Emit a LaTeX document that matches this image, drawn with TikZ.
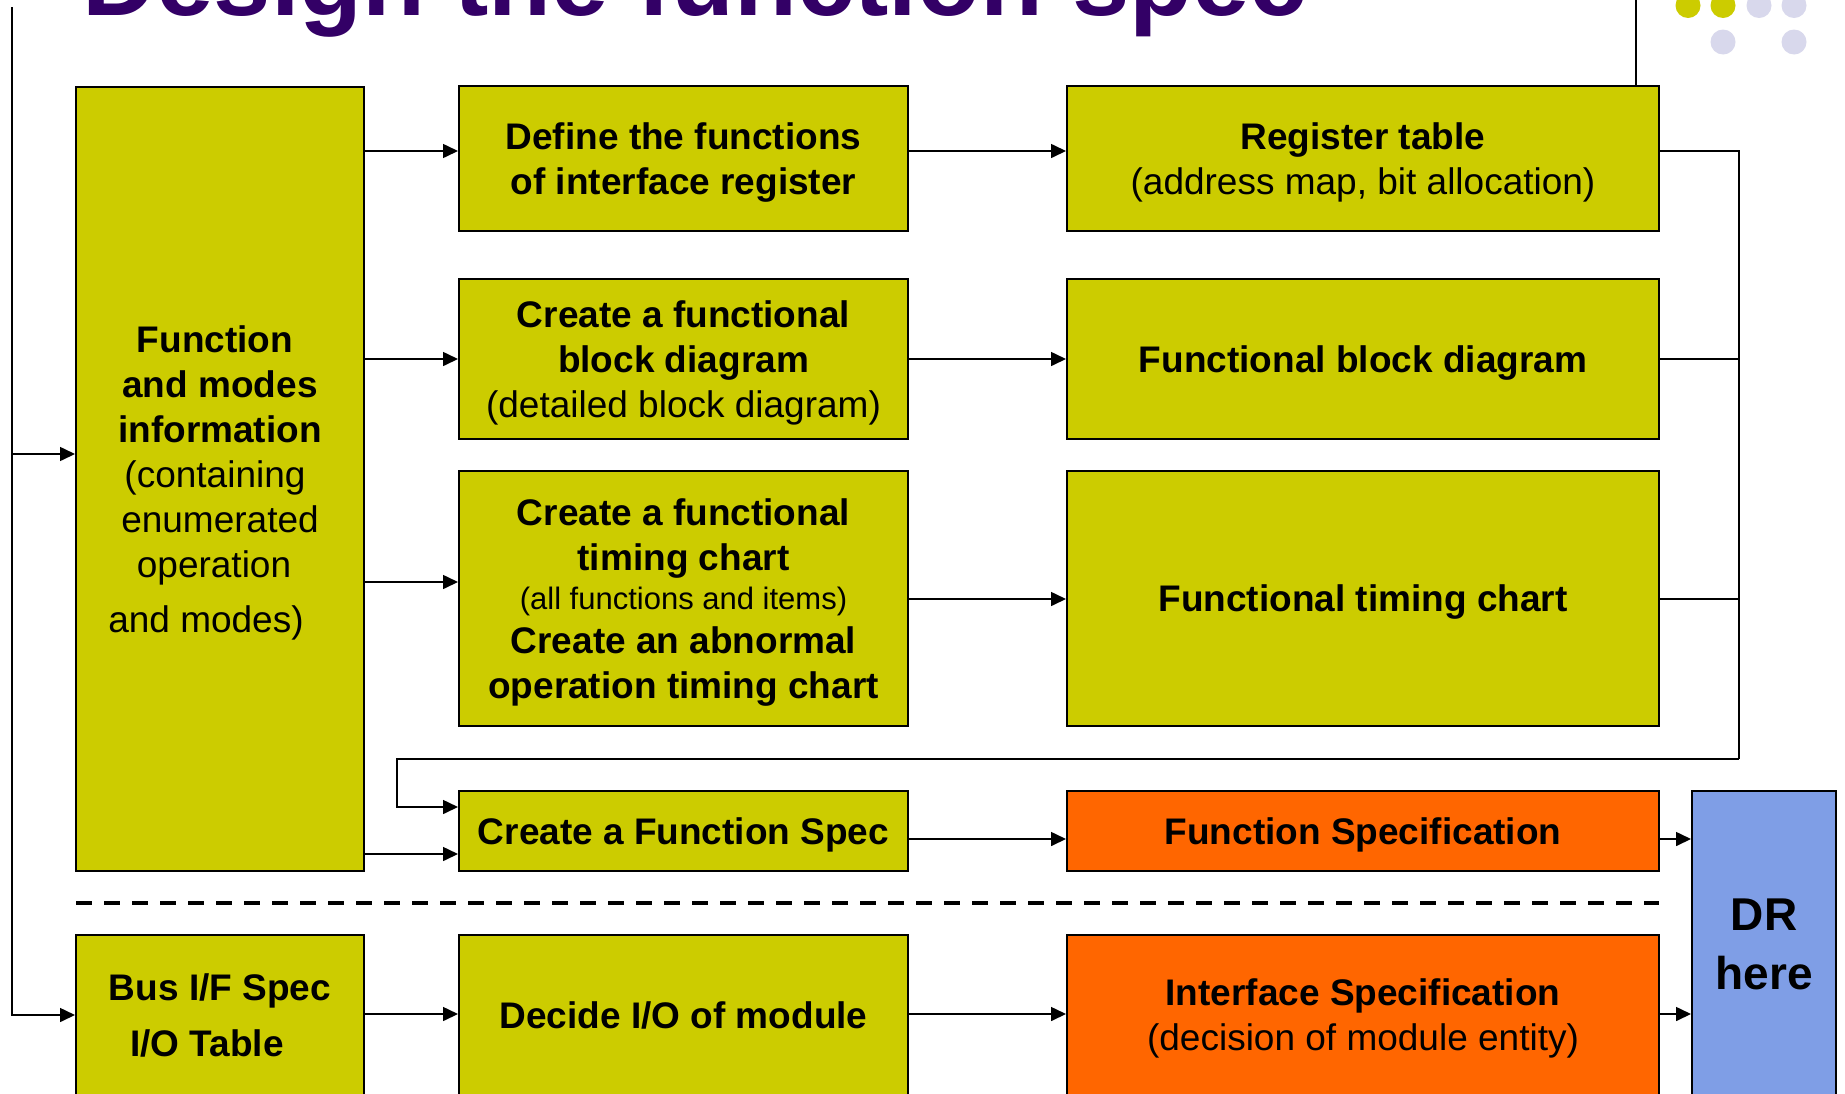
\documentclass[tikz,border=0pt]{standalone}
\usepackage{fontspec}
\setmainfont{Liberation Sans}
\usetikzlibrary{arrows.meta}
\definecolor{boxyellow}{RGB}{204,204,0}
\definecolor{boxorange}{RGB}{255,102,0}
\definecolor{boxblue}{RGB}{127,158,230}
\definecolor{titlepurple}{RGB}{51,0,102}
\definecolor{dotlilac}{RGB}{216,216,236}
\begin{document}
\begin{tikzpicture}[x=1pt,y=-1pt,
  box/.style={draw=black, line width=2pt, rectangle, align=center, inner sep=0pt, text=black,
              text depth=0pt, font=\fontsize{37}{45}\selectfont},
  ybox/.style={box, fill=boxyellow},
  obox/.style={box, fill=boxorange},
  bbox/.style={box, fill=boxblue, font=\fontsize{46}{59}\selectfont\bfseries},
  conn/.style={draw=black, line width=1.6pt},
  arr/.style={conn, -{Triangle[length=15pt,width=14pt]}},
  dot/.style={circle, inner sep=0pt, minimum size=25pt},
]
\useasboundingbox (0,0) rectangle (1845,1093);
\clip (0,0) rectangle (1845,1093);
\fill[white] (0,0) rectangle (1845,1093);

% heading and corner dots
\node[anchor=base west, inner sep=0pt, text=titlepurple,
      font=\fontsize{103}{110}\selectfont\bfseries] (title) at (82,15) {Design the function spec};
\node[dot, fill=boxyellow] (d1) at (1688,5.5) {};
\node[dot, fill=boxyellow] (d2) at (1723,5.5) {};
\node[dot, fill=dotlilac]  (d3) at (1759,5.5) {};
\node[dot, fill=dotlilac]  (d4) at (1794,5.5) {};
\node[dot, fill=dotlilac]  (d5) at (1723,42) {};
\node[dot, fill=dotlilac]  (d6) at (1794,42) {};

% left column
\node[ybox, minimum width=288pt, minimum height=784pt] (info) at (220,479)
  {\textbf{Function}\rule{10pt}{0pt}\\ \textbf{and modes}\\ \textbf{information}\\
   (containing\rule{10pt}{0pt}\\ enumerated\\ operation\rule{12pt}{0pt}\\[10pt] and modes)\rule{28pt}{0pt}};
\node[ybox, minimum width=288pt, minimum height=160pt] (bus) at (220,1015)
  {\textbf{Bus I/F Spec}\\[11pt] \textbf{I/O Table}\rule{26pt}{0pt}};

% middle column
\node[ybox, minimum width=449pt, minimum height=145pt] (defreg) at (683.5,158.5)
  {\textbf{Define the functions}\\ \textbf{of interface register}};
\node[ybox, minimum width=449pt, minimum height=160pt] (mkblock) at (683.5,359)
  {\textbf{Create a functional}\\ \textbf{block diagram}\\ (detailed block diagram)};
\node[ybox, minimum width=449pt, minimum height=255pt] (mktiming) at (683.5,598.5)
  {\textbf{Create a functional}\\ \textbf{timing chart}\\[-5.5pt]
   {\fontsize{31}{41}\selectfont (all functions and items)}\\[-1.5pt]
   \textbf{Create an abnormal}\\ \textbf{operation timing chart}};
\node[ybox, minimum width=449pt, minimum height=80pt] (mkspec) at (683.5,831)
  {\textbf{Create a Function Spec}};
\node[ybox, minimum width=449pt, minimum height=160pt] (decio) at (683.5,1015)
  {\textbf{Decide I/O of module}};

% right column
\node[ybox, minimum width=592pt, minimum height=145pt] (regtab) at (1363,158.5)
  {\textbf{Register table}\\ (address map, bit allocation)};
\node[ybox, minimum width=592pt, minimum height=160pt] (fblock) at (1363,359)
  {\textbf{Functional block diagram}};
\node[ybox, minimum width=592pt, minimum height=255pt] (ftiming) at (1363,598.5)
  {\textbf{Functional timing chart}};
\node[obox, minimum width=592pt, minimum height=80pt] (fspec) at (1363,831)
  {\textbf{Function Specification}};
\node[obox, minimum width=592pt, minimum height=160pt] (ifspec) at (1363,1015)
  {\textbf{Interface Specification}\\ (decision of module entity)};

% design review
\node[bbox, minimum width=144pt, minimum height=307pt] (dr) at (1764,944.5) {DR\\ here};

% separator between function and interface parts
\draw[line width=4pt, dash pattern=on 16pt off 12pt] (76,903) -- (1659,903);

% inputs from the left
\coordinate (topl) at (12,7);
\coordinate (tapl) at (12,454);
\draw[arr] (topl) |- (bus.west);
\draw[arr] (tapl) -- (info.west |- tapl);
\coordinate (topr) at (1636,0);
\draw[conn] (topr) -- (regtab.north -| topr);

% information box to the tasks
\draw[arr] (info.east |- 0,151) -- (defreg.west |- 0,151);
\draw[arr] (info.east |- 0,359) -- (mkblock.west |- 0,359);
\draw[arr] (info.east |- 0,582) -- (mktiming.west |- 0,582);
\draw[arr] (info.east |- 0,854) -- (mkspec.west |- 0,854);

% tasks to their results
\draw[arr] (defreg.east |- 0,151) -- (regtab.west |- 0,151);
\draw[arr] (mkblock.east |- 0,359) -- (fblock.west |- 0,359);
\draw[arr] (mktiming.east |- 0,599) -- (ftiming.west |- 0,599);
\draw[arr] (mkspec.east |- 0,839) -- (fspec.west |- 0,839);
\draw[arr] (decio.east |- 0,1014) -- (ifspec.west |- 0,1014);
\draw[arr] (bus.east |- 0,1014) -- (decio.west |- 0,1014);

% results feed back into the function spec
\coordinate (colt) at (1739,151);
\coordinate (colb) at (1739,759);
\coordinate (retl) at (397,759);
\draw[conn] (regtab.east |- colt) -- (colt) -- (colb);
\draw[conn] (fblock.east |- 0,359) -- (colt |- 0,359);
\draw[conn] (ftiming.east |- 0,599) -- (colt |- 0,599);
\draw[arr] (colb) -- (retl) |- (mkspec.west |- 0,807);

% specifications to the review
\draw[arr] (fspec.east |- 0,839) -- (dr.west |- 0,839);
\draw[arr] (ifspec.east |- 0,1014) -- (dr.west |- 0,1014);
\end{tikzpicture}
\end{document}
